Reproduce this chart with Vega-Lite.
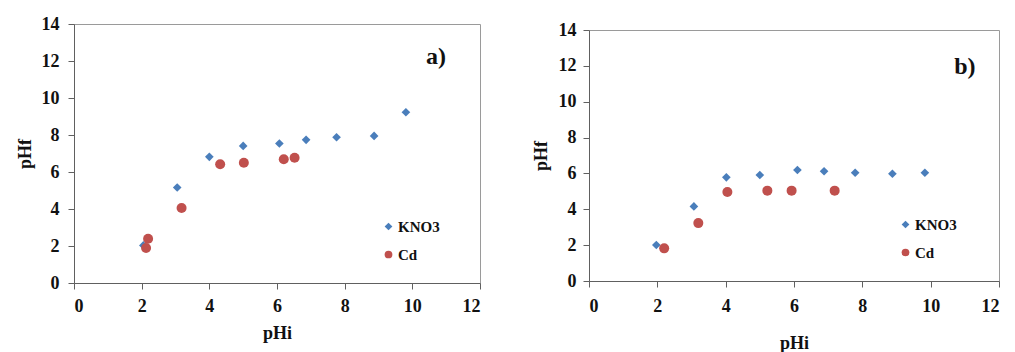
{
  "$schema": "https://vega.github.io/schema/vega-lite/v6.json",
  "background": "white",
  "padding": {"left": 15, "top": 14, "right": 0, "bottom": 0},
  "spacing": 50,
  "config": {
    "font": "Liberation Serif",
    "view": {"stroke": "#9a9a9a", "strokeWidth": 1},
    "axis": {
      "grid": false,
      "domainColor": "#606060",
      "tickColor": "#606060",
      "tickSize": 6,
      "labelOverlap": false
    }
  },
  "datasets": {
    "a": [
      {"series": "KNO3", "pHi": 2.05, "pHf": 2.03},
      {"series": "KNO3", "pHi": 3.05, "pHf": 5.16},
      {"series": "KNO3", "pHi": 4.0, "pHf": 6.82},
      {"series": "KNO3", "pHi": 5.0, "pHf": 7.41},
      {"series": "KNO3", "pHi": 6.07, "pHf": 7.54},
      {"series": "KNO3", "pHi": 6.86, "pHf": 7.74},
      {"series": "KNO3", "pHi": 7.76, "pHf": 7.88},
      {"series": "KNO3", "pHi": 8.87, "pHf": 7.95},
      {"series": "KNO3", "pHi": 9.81, "pHf": 9.23},
      {"series": "Cd", "pHi": 2.13, "pHf": 1.89},
      {"series": "Cd", "pHi": 2.19, "pHf": 2.39},
      {"series": "Cd", "pHi": 3.18, "pHf": 4.05},
      {"series": "Cd", "pHi": 4.32, "pHf": 6.42},
      {"series": "Cd", "pHi": 5.02, "pHf": 6.5},
      {"series": "Cd", "pHi": 6.2, "pHf": 6.69},
      {"series": "Cd", "pHi": 6.52, "pHf": 6.77}
    ],
    "b": [
      {"series": "KNO3", "pHi": 1.97, "pHf": 2.01},
      {"series": "KNO3", "pHi": 3.07, "pHf": 4.16},
      {"series": "KNO3", "pHi": 4.02, "pHf": 5.78},
      {"series": "KNO3", "pHi": 5.0, "pHf": 5.91},
      {"series": "KNO3", "pHi": 6.1, "pHf": 6.19},
      {"series": "KNO3", "pHi": 6.88, "pHf": 6.12},
      {"series": "KNO3", "pHi": 7.79, "pHf": 6.04},
      {"series": "KNO3", "pHi": 8.88, "pHf": 5.98},
      {"series": "KNO3", "pHi": 9.83, "pHf": 6.04},
      {"series": "Cd", "pHi": 2.2, "pHf": 1.82},
      {"series": "Cd", "pHi": 3.2, "pHf": 3.23},
      {"series": "Cd", "pHi": 4.05, "pHf": 4.96},
      {"series": "Cd", "pHi": 5.22, "pHf": 5.04},
      {"series": "Cd", "pHi": 5.93, "pHf": 5.04},
      {"series": "Cd", "pHi": 7.19, "pHf": 5.04}
    ],
    "labels": [
      {"panel": "a", "text": "a)", "pHi": 10.7, "pHf": 12.2},
      {"panel": "b", "text": "b)", "pHi": 11.0, "pHf": 11.95}
    ],
    "empty": []
  },
  "resolve": {"legend": {"color": "independent", "shape": "independent"}},
  "hconcat": [
    {
      "width": 406,
      "height": 259,
      "encoding": {
        "x": {"field": "pHi", "type": "quantitative", "scale": {"domain": [0, 12], "nice": false}, "axis": {"values": [0, 2, 4, 6, 8, 10, 12], "labelFont": "Liberation Serif", "labelFontWeight": "bold", "labelFontSize": 18, "labelColor": "#111", "labelPadding": 8, "titleFont": "Liberation Serif", "titleFontWeight": "bold", "titleFontSize": 18, "titleColor": "#111", "titlePadding": 9, "title": "pHi"}},
        "y": {"field": "pHf", "type": "quantitative", "scale": {"domain": [0, 14], "nice": false}, "axis": {"values": [0, 2, 4, 6, 8, 10, 12, 14], "labelFont": "Liberation Serif", "labelFontWeight": "bold", "labelFontSize": 18, "labelColor": "#111", "labelPadding": 9, "titleFont": "Liberation Serif", "titleFontWeight": "bold", "titleFontSize": 18, "titleColor": "#111", "titlePadding": 7, "title": "pHf"}}
      },
      "layer": [
        {
          "data": {"name": "a"},
          "mark": {"type": "point", "filled": true, "opacity": 1},
          "encoding": {
            "color": {"field": "series", "type": "nominal", "scale": {"domain": ["KNO3", "Cd"], "range": ["#4a7ebb", "#c0504d"]}, "legend": {"orient": "none", "title": null, "legendX": 307, "legendY": 195, "symbolSize": 60, "symbolStrokeWidth": 0, "rowPadding": 12, "labelOffset": 2, "labelFont": "Liberation Serif", "labelFontWeight": "bold", "labelFontSize": 15, "labelColor": "#111"}},
            "shape": {"field": "series", "type": "nominal", "scale": {"domain": ["KNO3", "Cd"], "range": ["diamond", "circle"]}},
            "size": {"field": "series", "type": "nominal", "scale": {"domain": ["KNO3", "Cd"], "range": [75, 100]}, "legend": null}
          }
        },
        {
          "data": {"name": "labels"},
          "transform": [{"filter": "datum.panel == 'a'"}],
          "mark": {"type": "text", "font": "Liberation Serif", "fontWeight": "bold", "fontSize": 24, "color": "#111"},
          "encoding": {"text": {"field": "text"}}
        }
      ]
    },
    {
      "spacing": -5,
      "resolve": {"legend": {"color": "independent", "shape": "independent"}},
      "vconcat": [
        {
          "width": 410,
          "height": 1,
          "view": {"stroke": null},
          "data": {"name": "empty"},
          "mark": {"type": "point"},
          "encoding": {
            "x": {"field": "pHi", "type": "quantitative", "axis": null},
            "y": {"field": "pHf", "type": "quantitative", "axis": null}
          }
        },
        {
          "width": 410,
          "height": 251,
          "encoding": {
            "x": {"field": "pHi", "type": "quantitative", "scale": {"domain": [0, 12], "nice": false}, "axis": {"values": [0, 2, 4, 6, 8, 10, 12], "labelFont": "Liberation Serif", "labelFontWeight": "bold", "labelFontSize": 18, "labelColor": "#111", "labelPadding": 10, "titleFont": "Liberation Serif", "titleFontWeight": "bold", "titleFontSize": 18, "titleColor": "#111", "titlePadding": 19, "title": "pHi"}},
            "y": {"field": "pHf", "type": "quantitative", "scale": {"domain": [0, 14], "nice": false}, "axis": {"values": [0, 2, 4, 6, 8, 10, 12, 14], "labelFont": "Liberation Serif", "labelFontWeight": "bold", "labelFontSize": 18, "labelColor": "#111", "labelPadding": 7, "titleFont": "Liberation Serif", "titleFontWeight": "bold", "titleFontSize": 18, "titleColor": "#111", "titlePadding": 8, "title": "pHf"}}
          },
          "layer": [
            {
              "data": {"name": "b"},
              "mark": {"type": "point", "filled": true, "opacity": 1},
              "encoding": {
                "color": {"field": "series", "type": "nominal", "scale": {"domain": ["KNO3", "Cd"], "range": ["#4a7ebb", "#c0504d"]}, "legend": {"orient": "none", "title": null, "legendX": 309, "legendY": 187, "symbolSize": 60, "symbolStrokeWidth": 0, "rowPadding": 12, "labelOffset": 2, "labelFont": "Liberation Serif", "labelFontWeight": "bold", "labelFontSize": 15, "labelColor": "#111"}},
                "shape": {"field": "series", "type": "nominal", "scale": {"domain": ["KNO3", "Cd"], "range": ["diamond", "circle"]}},
                "size": {"field": "series", "type": "nominal", "scale": {"domain": ["KNO3", "Cd"], "range": [75, 100]}, "legend": null}
              }
            },
            {
              "data": {"name": "labels"},
              "transform": [{"filter": "datum.panel == 'b'"}],
              "mark": {"type": "text", "font": "Liberation Serif", "fontWeight": "bold", "fontSize": 24, "color": "#111"},
              "encoding": {"text": {"field": "text"}}
            }
          ]
        }
      ]
    }
  ]
}
